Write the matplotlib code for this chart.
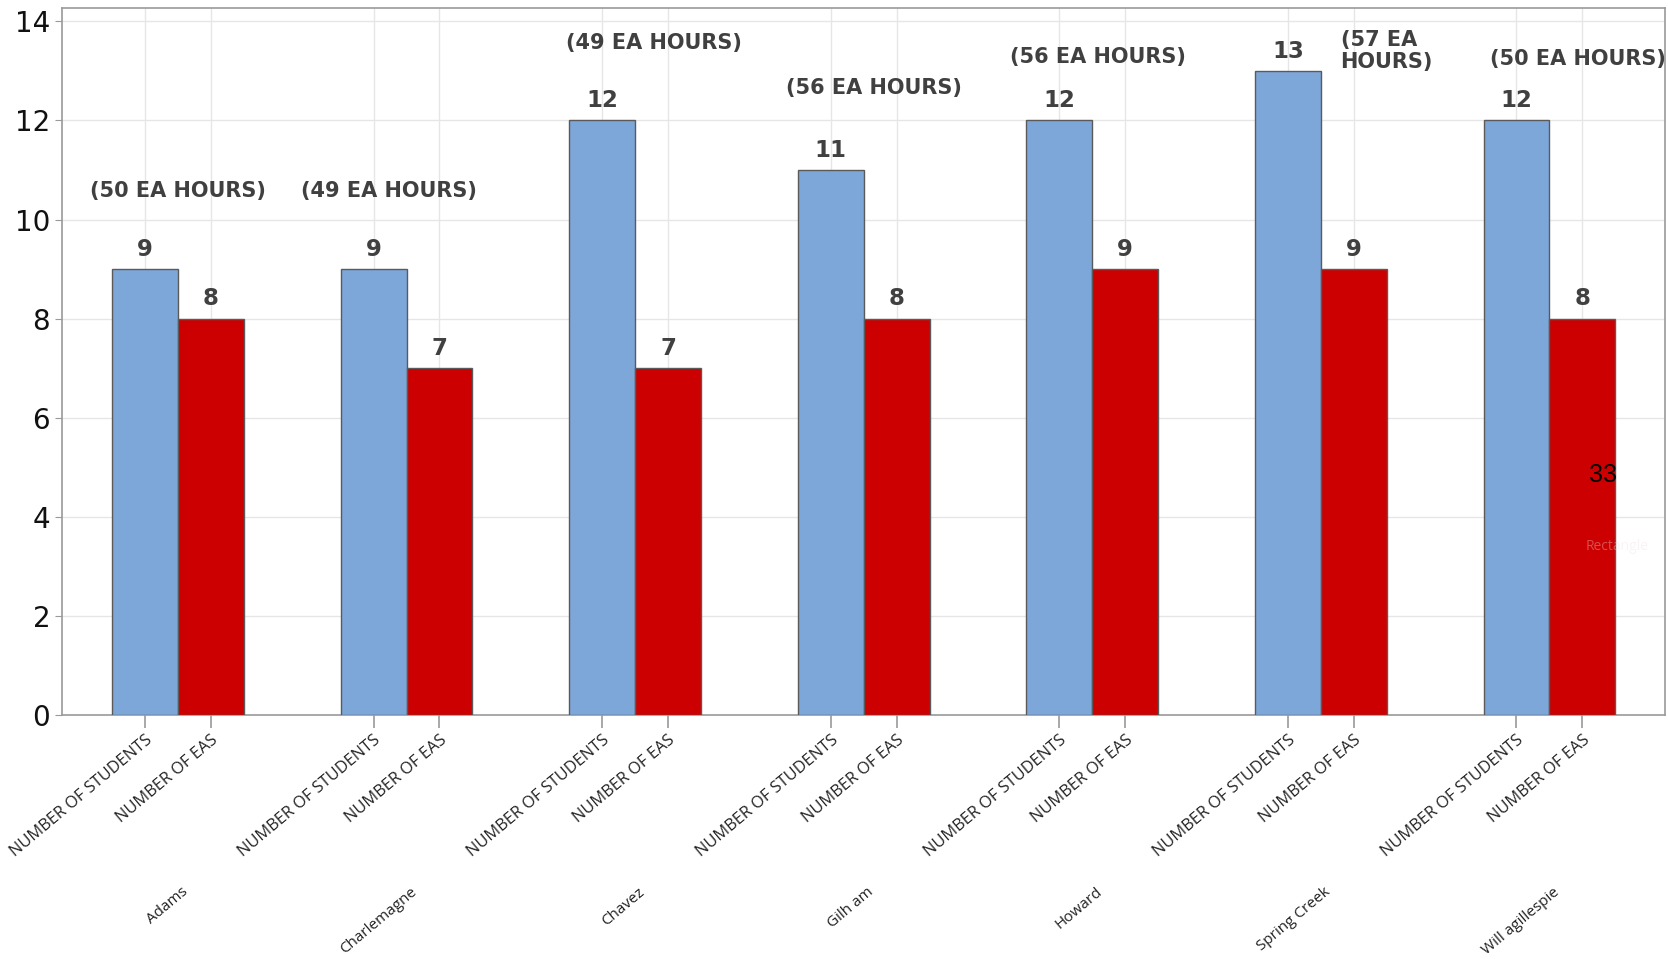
import matplotlib
matplotlib.use("Agg")
import matplotlib.pyplot as plt
import matplotlib.transforms as mtransforms
import numpy as np

plt.rcParams['font.family'] = ['Open Sans', 'DejaVu Sans']

schools = ["Adams", "Charlemagne", "Chavez", "Gilh am", "Howard", "Spring Creek", "Will agillespie"]
series_names = ["NUMBER OF STUDENTS", "NUMBER OF EAS"]
students = [9, 9, 12, 11, 12, 13, 12]
eas = [8, 7, 7, 8, 9, 9, 8]
ea_hours = ["(50 EA HOURS)", "(49 EA HOURS)", "(49 EA HOURS)", "(56 EA HOURS)",
            "(56 EA HOURS)", "(57 EA\nHOURS)", "(50 EA HOURS)"]

# annotation placement (layout, not data)
hours_dx = [0.0, -0.26, 0.29, 0.16, 0.08, 0.30, 0.44]
hours_y = [10.58, 10.58, 13.57, 12.65, 13.29, 13.40, 13.25]
hours_ha = ["center"] * 5 + ["left", "center"]

blue = "#7DA7D9"
red = "#CC0000"
txtc = "#404040"
boldfam = ["DejaVu Sans"]

fig = plt.figure(figsize=(16.68, 9.59), dpi=100)
ax = fig.add_axes([0.0372, 0.2544, 0.9608, 0.7373])

spacing = 3.47
w = 1.0
n = len(schools)
xb = np.arange(n) * spacing
xr = xb + w

ax.bar(xb, students, width=w, color=blue, edgecolor="#5a5a5a", linewidth=1.0, zorder=3)
ax.bar(xr, eas, width=w, color=red, edgecolor="#5a5a5a", linewidth=1.0, zorder=3)

for x, v in zip(xb, students):
    ax.annotate(str(v), (x, v), xytext=(0, 6), textcoords="offset points",
                ha="center", va="bottom", fontsize=16.5, fontweight="bold", color=txtc,
                family=boldfam, zorder=4)
for x, v in zip(xr, eas):
    ax.annotate(str(v), (x, v), xytext=(0, 6), textcoords="offset points",
                ha="center", va="bottom", fontsize=16.5, fontweight="bold", color=txtc,
                family=boldfam, zorder=4)

for i, t in enumerate(ea_hours):
    gx = xb[i] + w / 2
    if hours_ha[i] == "left":
        ax.text(xr[i] - 0.2, hours_y[i], t, ha="left", va="center", fontsize=15,
                fontweight="bold", color=txtc, linespacing=1.15, family=boldfam, zorder=4)
    else:
        ax.text(gx + hours_dx[i], hours_y[i], t, ha="center", va="center", fontsize=15,
                fontweight="bold", color=txtc, family=boldfam, zorder=4)

# stray text in original
ax.text(xr[-1] + 0.1, 4.84, "33", ha="left", va="center", fontsize=18, color="black",
        family="Liberation Sans", zorder=5)
ax.text(xr[-1] + 0.05, 3.4, "Rectangle", ha="left", va="center", fontsize=10,
        color="#f3dede", alpha=0.35, zorder=5)

ticks = np.sort(np.concatenate([xb, xr]))
labels = []
for i in range(n):
    labels += series_names
ax.set_xticks(ticks)
ax.set_xticklabels(labels, rotation=40, ha="right", va="top", rotation_mode="anchor",
                   fontsize=11.8, color="#222222")
for lbl in ax.get_xticklabels():
    lbl.set_transform(lbl.get_transform() + mtransforms.ScaledTranslation(0.06, -0.02, fig.dpi_scale_trans))

trans = mtransforms.blended_transform_factory(ax.transData, ax.transAxes)
for i, s in enumerate(schools):
    ax.text(xb[i] + w / 2 + 0.05, -0.24, s, transform=trans, rotation=40,
            ha="right", va="top", rotation_mode="anchor", fontsize=11, color="#222222")

ax.set_xlim(xb[0] - 1.26, xr[-1] + 1.25)
ax.set_ylim(0, 14.27)
ax.set_yticks(range(0, 15, 2))
ax.tick_params(axis="y", labelsize=20, colors="#111111", length=5, color="#999999")
ax.tick_params(axis="x", length=9, color="#999999", width=1.2)
for lbl in ax.get_yticklabels():
    lbl.set_family("DejaVu Sans")
ax.tick_params(axis="y", labelcolor="#111111")

ax.grid(True, color="#e6e6e6", linewidth=1.0, zorder=0)
ax.set_axisbelow(True)
for sp in ax.spines.values():
    sp.set_color("#9a9a9a")
    sp.set_linewidth(1.2)

fig.savefig("out.png", dpi=100)
